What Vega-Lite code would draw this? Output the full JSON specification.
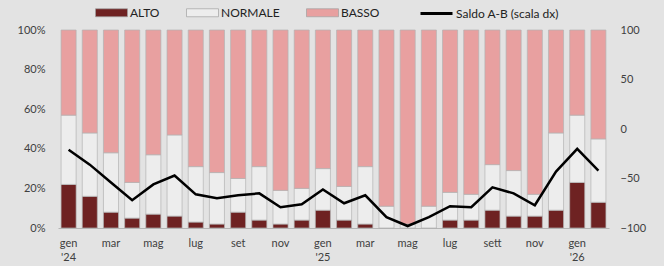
{
  "$schema": "https://vega.github.io/schema/vega-lite/v6.json",
  "width": 551,
  "height": 198,
  "autosize": {"type": "none"},
  "padding": {"left": 58, "top": 30, "right": 55, "bottom": 38},
  "background": "#e3e3e3",
  "config": {
    "view": {"stroke": null},
    "font": "Lato",
    "axis": {"labelColor": "#404040", "labelFontSize": 11, "labelFont": "Lato", "grid": false, "ticks": false, "title": null}
  },
  "datasets": {
    "barre": [
      {"mese": "gen '24", "cat": "ALTO", "val": 22}, {"mese": "gen '24", "cat": "NORMALE", "val": 35}, {"mese": "gen '24", "cat": "BASSO", "val": 43},
      {"mese": "feb '24", "cat": "ALTO", "val": 16}, {"mese": "feb '24", "cat": "NORMALE", "val": 32}, {"mese": "feb '24", "cat": "BASSO", "val": 52},
      {"mese": "mar '24", "cat": "ALTO", "val": 8}, {"mese": "mar '24", "cat": "NORMALE", "val": 30}, {"mese": "mar '24", "cat": "BASSO", "val": 62},
      {"mese": "apr '24", "cat": "ALTO", "val": 5}, {"mese": "apr '24", "cat": "NORMALE", "val": 18}, {"mese": "apr '24", "cat": "BASSO", "val": 77},
      {"mese": "mag '24", "cat": "ALTO", "val": 7}, {"mese": "mag '24", "cat": "NORMALE", "val": 30}, {"mese": "mag '24", "cat": "BASSO", "val": 63},
      {"mese": "giu '24", "cat": "ALTO", "val": 6}, {"mese": "giu '24", "cat": "NORMALE", "val": 41}, {"mese": "giu '24", "cat": "BASSO", "val": 53},
      {"mese": "lug '24", "cat": "ALTO", "val": 3}, {"mese": "lug '24", "cat": "NORMALE", "val": 28}, {"mese": "lug '24", "cat": "BASSO", "val": 69},
      {"mese": "ago '24", "cat": "ALTO", "val": 2}, {"mese": "ago '24", "cat": "NORMALE", "val": 26}, {"mese": "ago '24", "cat": "BASSO", "val": 72},
      {"mese": "set '24", "cat": "ALTO", "val": 8}, {"mese": "set '24", "cat": "NORMALE", "val": 17}, {"mese": "set '24", "cat": "BASSO", "val": 75},
      {"mese": "ott '24", "cat": "ALTO", "val": 4}, {"mese": "ott '24", "cat": "NORMALE", "val": 27}, {"mese": "ott '24", "cat": "BASSO", "val": 69},
      {"mese": "nov '24", "cat": "ALTO", "val": 2}, {"mese": "nov '24", "cat": "NORMALE", "val": 17}, {"mese": "nov '24", "cat": "BASSO", "val": 81},
      {"mese": "dic '24", "cat": "ALTO", "val": 4}, {"mese": "dic '24", "cat": "NORMALE", "val": 16}, {"mese": "dic '24", "cat": "BASSO", "val": 80},
      {"mese": "gen '25", "cat": "ALTO", "val": 9}, {"mese": "gen '25", "cat": "NORMALE", "val": 21}, {"mese": "gen '25", "cat": "BASSO", "val": 70},
      {"mese": "feb '25", "cat": "ALTO", "val": 4}, {"mese": "feb '25", "cat": "NORMALE", "val": 17}, {"mese": "feb '25", "cat": "BASSO", "val": 79},
      {"mese": "mar '25", "cat": "ALTO", "val": 2}, {"mese": "mar '25", "cat": "NORMALE", "val": 29}, {"mese": "mar '25", "cat": "BASSO", "val": 69},
      {"mese": "apr '25", "cat": "ALTO", "val": 0}, {"mese": "apr '25", "cat": "NORMALE", "val": 11}, {"mese": "apr '25", "cat": "BASSO", "val": 89},
      {"mese": "mag '25", "cat": "ALTO", "val": 0}, {"mese": "mag '25", "cat": "NORMALE", "val": 2}, {"mese": "mag '25", "cat": "BASSO", "val": 98},
      {"mese": "giu '25", "cat": "ALTO", "val": 0}, {"mese": "giu '25", "cat": "NORMALE", "val": 11}, {"mese": "giu '25", "cat": "BASSO", "val": 89},
      {"mese": "lug '25", "cat": "ALTO", "val": 4}, {"mese": "lug '25", "cat": "NORMALE", "val": 14}, {"mese": "lug '25", "cat": "BASSO", "val": 82},
      {"mese": "ago '25", "cat": "ALTO", "val": 4}, {"mese": "ago '25", "cat": "NORMALE", "val": 13}, {"mese": "ago '25", "cat": "BASSO", "val": 83},
      {"mese": "sett '25", "cat": "ALTO", "val": 9}, {"mese": "sett '25", "cat": "NORMALE", "val": 23}, {"mese": "sett '25", "cat": "BASSO", "val": 68},
      {"mese": "ott '25", "cat": "ALTO", "val": 6}, {"mese": "ott '25", "cat": "NORMALE", "val": 23}, {"mese": "ott '25", "cat": "BASSO", "val": 71},
      {"mese": "nov '25", "cat": "ALTO", "val": 6}, {"mese": "nov '25", "cat": "NORMALE", "val": 11}, {"mese": "nov '25", "cat": "BASSO", "val": 83},
      {"mese": "dic '25", "cat": "ALTO", "val": 9}, {"mese": "dic '25", "cat": "NORMALE", "val": 39}, {"mese": "dic '25", "cat": "BASSO", "val": 52},
      {"mese": "gen '26", "cat": "ALTO", "val": 23}, {"mese": "gen '26", "cat": "NORMALE", "val": 34}, {"mese": "gen '26", "cat": "BASSO", "val": 43},
      {"mese": "feb '26", "cat": "ALTO", "val": 13}, {"mese": "feb '26", "cat": "NORMALE", "val": 32}, {"mese": "feb '26", "cat": "BASSO", "val": 55}
    ],
    "saldo": [
      {"mese": "gen '24", "saldo": -21}, {"mese": "feb '24", "saldo": -36}, {"mese": "mar '24", "saldo": -54},
      {"mese": "apr '24", "saldo": -72}, {"mese": "mag '24", "saldo": -56}, {"mese": "giu '24", "saldo": -47},
      {"mese": "lug '24", "saldo": -66}, {"mese": "ago '24", "saldo": -70}, {"mese": "set '24", "saldo": -67},
      {"mese": "ott '24", "saldo": -65}, {"mese": "nov '24", "saldo": -79}, {"mese": "dic '24", "saldo": -76},
      {"mese": "gen '25", "saldo": -61}, {"mese": "feb '25", "saldo": -75}, {"mese": "mar '25", "saldo": -67},
      {"mese": "apr '25", "saldo": -89}, {"mese": "mag '25", "saldo": -98}, {"mese": "giu '25", "saldo": -89},
      {"mese": "lug '25", "saldo": -78}, {"mese": "ago '25", "saldo": -79}, {"mese": "sett '25", "saldo": -59},
      {"mese": "ott '25", "saldo": -65}, {"mese": "nov '25", "saldo": -77}, {"mese": "dic '25", "saldo": -43},
      {"mese": "gen '26", "saldo": -20}, {"mese": "feb '26", "saldo": -42}
    ]
  },
  "layer": [
    {
      "data": {"name": "barre"},
      "transform": [{"calculate": "indexof(['ALTO','NORMALE','BASSO'], datum.cat)", "as": "ordine"}],
      "mark": {"type": "bar", "stroke": "#b3b3b3", "strokeWidth": 0.7},
      "encoding": {
        "x": {
          "field": "mese", "type": "ordinal", "sort": null,
          "scale": {"paddingInner": 0.29, "paddingOuter": 0.145},
          "axis": {
            "domain": true, "domainColor": "#b5b5b5", "labelAngle": 0, "labelPadding": 9, "labelLineHeight": 14,
            "labelExpr": "indexof(['gen','mar','mag','lug','set','sett','nov'], split(datum.value,' ')[0]) < 0 ? '' : (split(datum.value,' ')[0] == 'gen' ? split(datum.value,' ') : split(datum.value,' ')[0])"
          }
        },
        "y": {
          "field": "val", "type": "quantitative", "stack": "zero",
          "scale": {"domain": [0, 100]},
          "axis": {"values": [0, 20, 40, 60, 80, 100], "labelExpr": "datum.value + '%'", "domain": false, "labelPadding": 13}
        },
        "order": {"field": "ordine", "type": "quantitative", "sort": "ascending"},
        "color": {
          "field": "cat", "type": "nominal", "sort": ["ALTO", "NORMALE", "BASSO"],
          "scale": {"domain": ["ALTO", "NORMALE", "BASSO"], "range": ["#6e2222", "#ededed", "#e8a0a0"]},
          "legend": {
            "title": null, "orient": "none", "direction": "horizontal", "legendX": 37, "legendY": -34,
            "symbolType": "M-1,-0.25H1V0.25H-1Z", "symbolSize": 1024, "symbolStrokeColor": "#a0a0a0", "symbolStrokeWidth": 0.7,
            "labelFontSize": 12, "labelColor": "#222222", "labelOffset": 2, "columnPadding": 25
          }
        }
      }
    },
    {
      "data": {"name": "saldo"},
      "mark": {"type": "line", "strokeWidth": 2.5},
      "encoding": {
        "x": {"field": "mese", "type": "ordinal", "sort": null},
        "y": {
          "field": "saldo", "type": "quantitative",
          "scale": {"domain": [-100, 100]},
          "axis": {"orient": "right", "values": [-100, -50, 0, 50, 100], "domain": false, "labelPadding": 11}
        },
        "stroke": {
          "datum": "Saldo A-B (scala dx)", "type": "nominal",
          "scale": {"range": ["#000000"]},
          "legend": {
            "title": null, "orient": "none", "legendX": 361, "legendY": -34,
            "symbolType": "stroke", "symbolSize": 1024, "symbolStrokeWidth": 3,
            "labelFontSize": 12, "labelColor": "#222222", "labelOffset": 2
          }
        }
      }
    }
  ],
  "resolve": {"scale": {"y": "independent", "color": "independent", "stroke": "independent"}}
}
